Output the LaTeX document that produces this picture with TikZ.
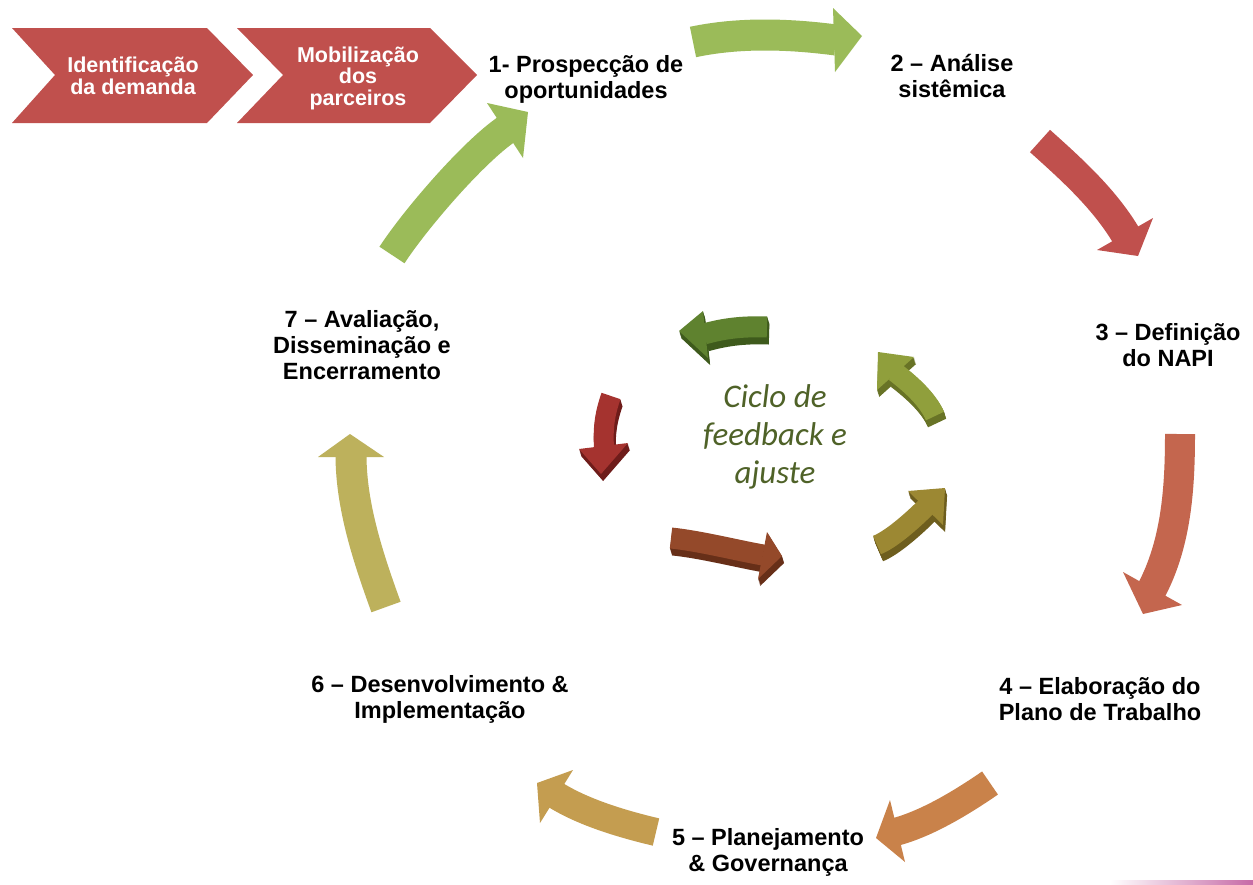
\documentclass[tikz,border=0pt]{standalone}
\usepackage{fontspec}
\setmainfont{Liberation Sans}
\newfontfamily\carl{Carlito}
\definecolor{chevred}{HTML}{C0504D}
\definecolor{agreen}{HTML}{9BBB59}
\definecolor{ared}{HTML}{C0504D}
\definecolor{aorred}{HTML}{C4664E}
\definecolor{aorange}{HTML}{C9824A}
\definecolor{atan}{HTML}{C49D50}
\definecolor{aolive}{HTML}{BDB15C}
\definecolor{cgreen}{HTML}{4F6228}
\definecolor{iAtop}{HTML}{5F822F}\definecolor{iAside}{HTML}{3E5A1C}
\definecolor{iBtop}{HTML}{909F3C}\definecolor{iBside}{HTML}{687326}
\definecolor{iCtop}{HTML}{9C8833}\definecolor{iCside}{HTML}{6E5E1E}
\definecolor{iDtop}{HTML}{94492A}\definecolor{iDside}{HTML}{672F18}
\definecolor{iEtop}{HTML}{A5332F}\definecolor{iEside}{HTML}{6E1C1A}
\definecolor{pinkline}{HTML}{C66AA6}
\tikzset{
  lbl/.style={font=\bfseries\fontsize{23.5}{26}\selectfont, align=center, text=black, inner sep=0pt},
  chevtxt/.style={font=\bfseries\fontsize{21.5}{21.5}\selectfont, text=white, align=center, inner sep=0pt},
  blk/.style={line cap=butt, line width=#1},
}
\newcommand\bigarr[9]{%
  \draw[blk=#2, draw=#1] #3 .. controls #4 and #5 .. #6;
  \fill[#1] #7 -- #8 -- #9 -- cycle;}
\newcommand\inarr[8]{%
  \foreach \s in {7,6,5,4,3,2,1}{%
    \begin{scope}[shift={(0.3*\s,\s)}]
      \draw[blk=#3, draw=#2] #4 .. controls #5 and #6 .. #7;
      \fill[#2] #8 -- cycle;
    \end{scope}}
  \draw[blk=#3, draw=#1] #4 .. controls #5 and #6 .. #7;
  \fill[#1] #8 -- cycle;}
\begin{document}
\begin{tikzpicture}[x=1pt,y=-1pt]
\useasboundingbox (0,0) rectangle (1253,884);
\fill[white] (0,0) rectangle (1253,884);
% chevrons
\fill[chevred] (12,28) -- (207,28) -- (253,75) -- (207,123) -- (12,123) -- (55,75) -- cycle;
\fill[chevred] (237,28) -- (430,28) -- (477,75) -- (430,123) -- (237,123) -- (283,75) -- cycle;
\node[chevtxt] (c1) at (133,76) {Identificação\\da demanda};
\node[chevtxt] (c2) at (358,78) {Mobilização\\dos\\parceiros};
% big cycle arrows
\bigarr{agreen}{31}{(693,42)}{(740,32)}{(790,34)}{(836,40)}{(833,8)}{(862,36)}{(835,72)}
\bigarr{ared}{30}{(1040,141)}{(1070,168)}{(1105,199)}{(1127,237)}{(1097,250)}{(1138,256)}{(1153,218)}
\bigarr{aorred}{30}{(1180,434)}{(1180,490)}{(1176,544)}{(1151,591)}{(1123,572)}{(1143,614)}{(1182,605)}
\bigarr{aorange}{28}{(990,783)}{(961,803)}{(926,824)}{(895,832)}{(890,800)}{(876,838)}{(905,862)}
\bigarr{atan}{28}{(656,832)}{(622,824)}{(582,812)}{(554,794)}{(573,770)}{(537,783)}{(540,823)}
\bigarr{aolive}{31}{(386,607)}{(369,560)}{(351,507)}{(351,455)}{(318,457)}{(350,434)}{(384,457)}
\bigarr{agreen}{30}{(392,255)}{(414,221)}{(472,153)}{(507,129)}{(487,103)}{(528,112)}{(523,158)}
% inner feedback arrows
\inarr{iAtop}{iAside}{21}{(767,327)}{(740,326)}{(722,329)}{(704,334)}{(703,311) -- (679,331) -- (708,358)}
\inarr{iBtop}{iBside}{20}{(935,416)}{(928,400)}{(912,385)}{(895,372)}{(914,357) -- (878,352) -- (877,390)}
\inarr{iCtop}{iCside}{20}{(877,545)}{(890,540)}{(911,522)}{(926,507)}{(943,525) -- (945,488) -- (908,491)}
\inarr{iDtop}{iDside}{21}{(671,538)}{(700,541)}{(735,550)}{(763,555)}{(767,532) -- (782,556) -- (758,579)}
\inarr{iEtop}{iEside}{20}{(611,396)}{(604,416)}{(603,430)}{(604,448)}{(579,449) -- (601,474) -- (628,443)}
% labels
\node[lbl] (l1) at (586,79) {1- Prospecção de\\oportunidades};
\node[lbl] (l2) at (952,76) {2 – Análise\\sistêmica};
\node[lbl] (l3) at (1168,345) {3 – Definição\\do NAPI};
\node[lbl] (l4) at (1100,699) {4 – Elaboração do\\Plano de Trabalho};
\node[lbl] (l5) at (768,852) {5 – Planejamento\\\& Governança};
\node[lbl] (l6) at (440,699) {6 – Desenvolvimento \&\\Implementação};
\node[lbl] (l7) at (362,345) {7 – Avaliação,\\Disseminação e\\Encerramento};
\node[font=\carl\itshape\fontsize{33}{38}\selectfont, text=cgreen, align=center, inner sep=0pt] (ciclo) at (775,437) {Ciclo de\\feedback e\\ajuste};
% pink line
\shade[left color=white, right color=pinkline] (1110,880) rectangle (1253,884);
\end{tikzpicture}
\end{document}
